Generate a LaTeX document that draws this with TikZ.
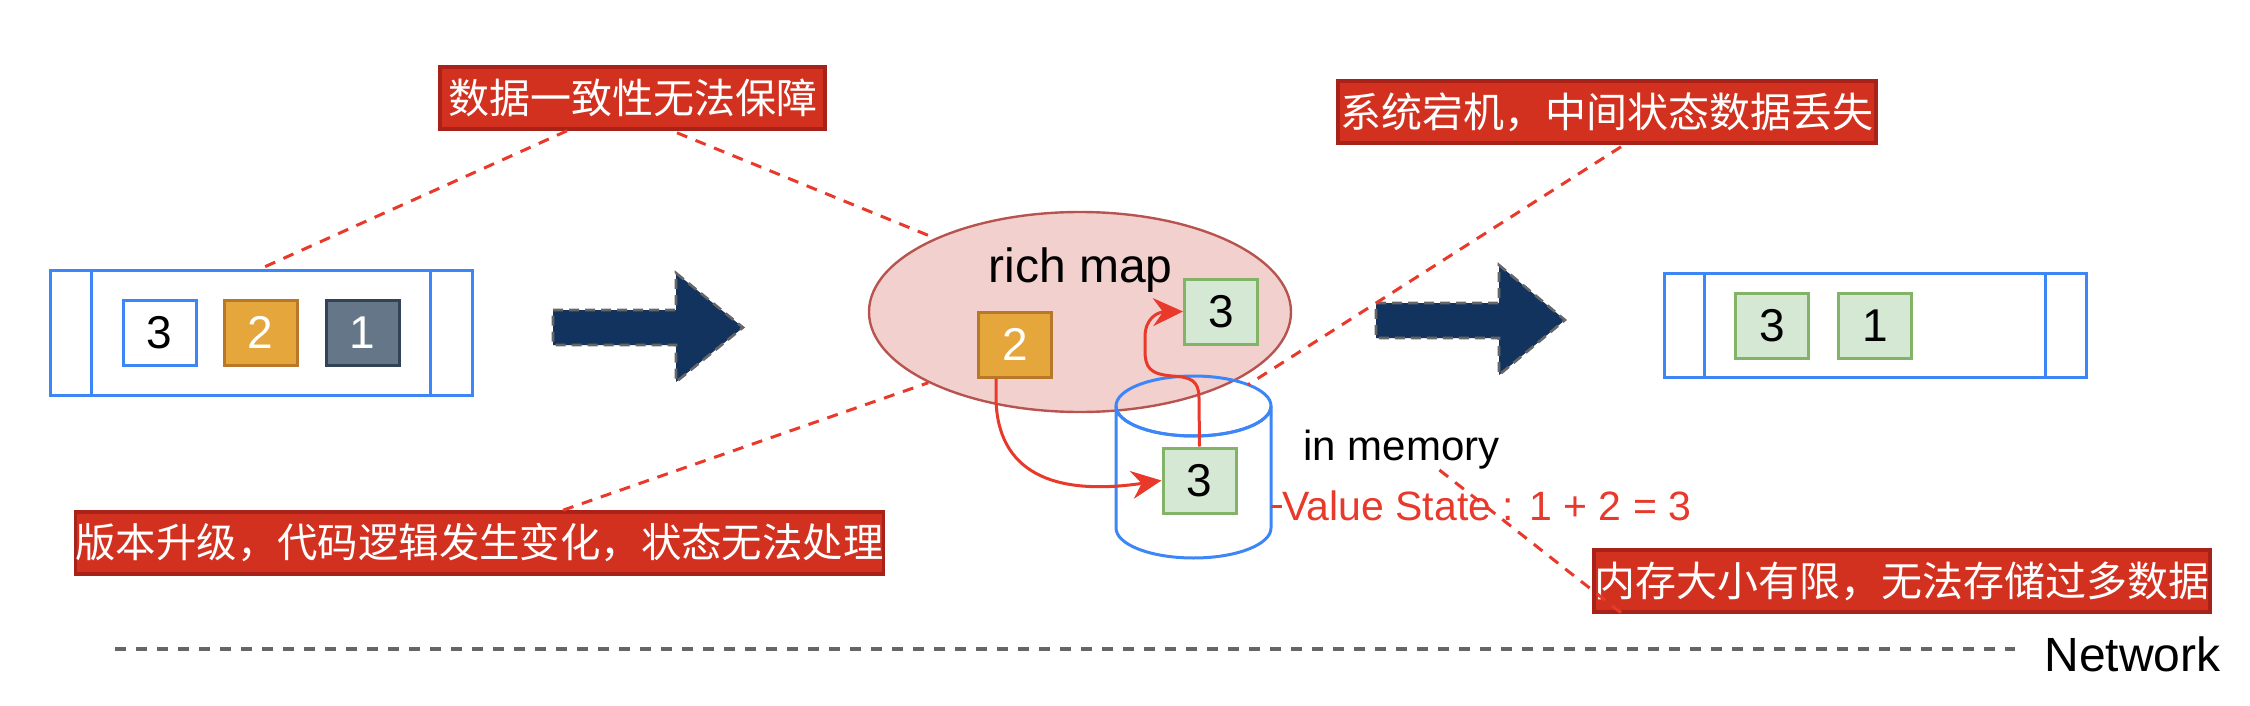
\documentclass[tikz,border=0pt]{standalone}
\usepackage{fontspec}
\setmainfont{Liberation Sans}
\newfontfamily\cjk{Noto Sans CJK SC}
\usetikzlibrary{arrows.meta,calc,shapes.geometric}
\definecolor{lblfill}{HTML}{D33120}
\definecolor{lbldraw}{HTML}{A8221A}
\definecolor{qblue}{HTML}{3D86F7}
\definecolor{ored}{HTML}{E8392B}
\definecolor{navy}{HTML}{13335F}
\definecolor{gfill}{HTML}{D5E8D4}
\definecolor{gdraw}{HTML}{82B366}
\definecolor{ofill}{HTML}{E5A63B}
\definecolor{odraw}{HTML}{B9772A}
\definecolor{sfill}{HTML}{647687}
\definecolor{sdraw}{HTML}{314354}
\definecolor{pfill}{HTML}{F2D0CE}
\definecolor{pdraw}{HTML}{B85450}
\definecolor{dgray}{HTML}{666666}
\tikzset{
  lbl/.style={draw=lbldraw, fill=lblfill, line width=1.8pt, text=white, inner sep=0pt,
    minimum height=31pt, font=\cjk\fontsize{20.5pt}{24pt}\selectfont},
  qbox/.style={draw=qblue, line width=1.5pt, inner sep=0pt, fill=white},
  qline/.style={draw=qblue, line width=1.5pt},
  item/.style={line width=1.5pt, minimum width=36.5pt, minimum height=32.5pt, inner sep=0pt,
    font=\fontsize{23pt}{26pt}\selectfont},
  gitem/.style={item, draw=gdraw, fill=gfill},
  oitem/.style={item, draw=odraw, fill=ofill, text=white},
  bigarrow/.style={fill=navy, draw=dgray, line width=1.3pt, dash pattern=on 5pt off 3pt},
  redarrow/.style={draw=ored, line width=1.5pt, -{Stealth[length=15pt,width=14pt,inset=5pt]}},
  reddash/.style={draw=ored, line width=1.5pt, dash pattern=on 5.5pt off 4.5pt},
  txt/.style={inner sep=0pt, font=\fontsize{21pt}{25pt}\selectfont},
}
\begin{document}
\begin{tikzpicture}[x=0.5pt,y=-0.5pt]
\useasboundingbox (0,0) rectangle (2250,706);

% ---------- queue 1 ----------
\node[qbox, minimum width=211pt, minimum height=62.5pt] (q1) at (261,332.5) {};
\draw[qline] ($(q1.north west)+(43,0)$) -- ($(q1.south west)+(43,0)$);
\draw[qline] ($(q1.north east)+(-43,0)$) -- ($(q1.south east)+(-43,0)$);
\node[item, draw=qblue, fill=white] (a3) at (159.5,332.5) {3};
\node[oitem] (a2) at (260.5,332.5) {2};
\node[item, draw=sdraw, fill=sfill, text=white] (a1) at (362.5,332.5) {1};

% ---------- big arrow 1 ----------
\filldraw[bigarrow] (553,310) -- (676,310) -- (676,273) -- (743,327.5) -- (676,382) -- (676,345) -- (553,345) -- cycle;

% ---------- rich map ----------
\node[ellipse, draw=pdraw, fill=pfill, line width=1.2pt, minimum width=211pt, minimum height=100pt, inner sep=0pt] (rm) at (1080,312) {};
\node[anchor=base west, inner sep=0pt, font=\fontsize{24pt}{28pt}\selectfont] (rmt) at (988,282) {rich map};
\node[oitem] (b2) at (1015,344.5) {2};
\node[gitem] (ct) at (1221,311.5) {3};

% ---------- cylinder ----------
\filldraw[draw=qblue, fill=white, line width=1.5pt] (1116,406) -- (1116,528)
  arc[start angle=180, end angle=0, x radius=77.5, y radius=30] -- (1271,406)
  arc[start angle=0, end angle=180, x radius=77.5, y radius=30] -- cycle;
\draw[draw=qblue, line width=1.5pt] (1193.5,406) ellipse [x radius=77.5, y radius=30];
\coordinate (cylE) at (1271,506);
\coordinate (cylTR) at (1248,384.7);
\node[gitem] (ci) at (1199.5,480.5) {3};

% ---------- red arrows ----------
\draw[redarrow] ($(b2.south)+(-19,0)$) -- (996,400) .. controls (998,470) and (1050,497) .. (ci.west);
\draw[redarrow] (ci.north) -- (1199,398) .. controls (1199,380) and (1190,377) .. (1172,376)
  .. controls (1150,374) and (1145,368) .. (1145,350) -- (1145,337)
  .. controls (1145,318) and (1158,312) .. (ct.west);

% ---------- texts ----------
\node[txt, anchor=base west] (im) at (1303,460) {in memory};
\node[txt, anchor=west, text=ored, font=\fontsize{20.5pt}{25pt}\selectfont] (vs) at (1282,506) {Value State : 1 + 2 = 3};
\draw[draw=ored, line width=1.5pt] (cylE) -- (vs.west);

% ---------- big arrow 2 ----------
\filldraw[bigarrow] (1376,303) -- (1499,303) -- (1499,265) -- (1565,320) -- (1499,375) -- (1499,338) -- (1376,338) -- cycle;

% ---------- queue 2 ----------
\node[qbox, minimum width=211pt, minimum height=52pt] (q2) at (1875,325) {};
\draw[qline] ($(q2.north west)+(42,0)$) -- ($(q2.south west)+(42,0)$);
\draw[qline] ($(q2.north east)+(-42,0)$) -- ($(q2.south east)+(-42,0)$);
\node[gitem] (g3) at (1772,325.5) {3};
\node[gitem] (g1) at (1875,325.5) {1};

% ---------- labels ----------
\node[lbl, minimum width=192.5pt] (lab1) at (632.5,98) {数据一致性无法保障};
\node[lbl, minimum width=269pt] (lab2) at (1607,112) {系统宕机，中间状态数据丢失};
\node[lbl, minimum width=403.5pt, font=\cjk\fontsize{20.2pt}{24pt}\selectfont] (lab3) at (479.5,543) {版本升级，代码逻辑发生变化，状态无法处理};
\node[lbl, minimum width=308pt] (lab4) at (1902,581) {内存大小有限，无法存储过多数据};

% ---------- dashed callout lines ----------
\draw[reddash] ($(lab1.south)+(-65.5,0)$) -- (q1.north);
\draw[reddash] ($(lab1.south)+(44.5,2)$) -- (rm.153);
\draw[reddash] ($(lab3.north)+(83.5,0)$) -- (rm.205);
\draw[reddash] ($(lab2.south)+(14,2)$) -- (cylTR);
\draw[reddash] ($(im.base)+(38,10)$) -- ($(lab4.south west)+(34,3)$);

% ---------- network ----------
\coordinate (netL) at (115,649);
\coordinate (netR) at (2015,649);
\draw[draw=dgray, line width=1.6pt, dash pattern=on 5.5pt off 5pt] (netL) -- (netR);
\node[anchor=base west, inner sep=0pt, font=\fontsize{24pt}{28pt}\selectfont] (net) at (2044,671) {Network};
\end{tikzpicture}
\end{document}
